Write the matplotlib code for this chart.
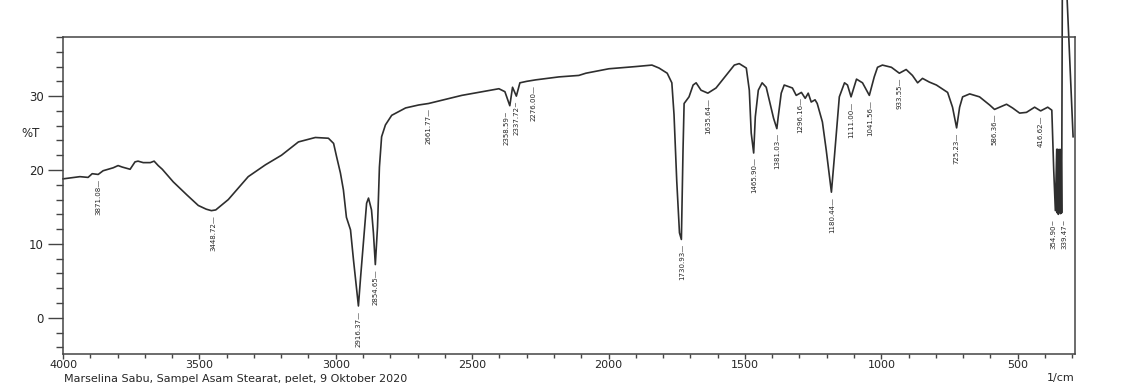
import numpy as np
import matplotlib
matplotlib.use("Agg")
import matplotlib.pyplot as plt
from matplotlib.ticker import MultipleLocator

# FTIR spectrum (wavenumber 1/cm, %T)
wavenumber = [
    4000, 3938, 3908, 3893, 3871, 3864, 3853, 3816, 3798, 3783, 3754, 3736, 3725, 3706,
    3680, 3666, 3651, 3636, 3596, 3545, 3504, 3475, 3456, 3440, 3394, 3321, 3258, 3199,
    3137, 3075, 3027, 3008, 2997, 2983, 2972, 2961, 2946, 2935, 2917, 2909, 2898, 2887,
    2880, 2869, 2862, 2855, 2847, 2840, 2832, 2818, 2795, 2744, 2696, 2660, 2538, 2402,
    2380, 2362, 2352, 2338, 2325, 2300, 2267, 2182, 2109, 2083, 1999, 1900, 1841, 1815,
    1785, 1768, 1760, 1750, 1740, 1733, 1727, 1723, 1705, 1690, 1679, 1661, 1636, 1606,
    1569, 1539, 1521, 1495, 1484, 1477, 1468, 1462, 1451, 1437, 1422, 1411, 1395, 1383,
    1378, 1367, 1356, 1326, 1312, 1293, 1279, 1268, 1257, 1243, 1235, 1216, 1202, 1183,
    1172, 1154, 1135, 1124, 1111, 1091, 1069, 1044, 1026, 1014, 996, 963, 934, 909,
    886, 867, 849, 824, 798, 757, 739, 724, 713, 702, 676, 640, 603, 585, 541, 519,
    493, 468, 438, 416, 390, 375, 368, 362, 357, 355, 353, 351, 349, 347, 345, 343,
    341, 339, 336, 327, 297,
]
transmittance = [
    18.8, 19.1, 19.0, 19.5, 19.4, 19.6, 19.9, 20.3, 20.6, 20.4, 20.1, 21.1, 21.2, 21.0,
    21.0, 21.2, 20.6, 20.1, 18.4, 16.6, 15.2, 14.7, 14.5, 14.6, 16.0, 19.1, 20.7, 22.0,
    23.8, 24.4, 24.3, 23.6, 21.8, 19.6, 17.3, 13.6, 11.9, 7.8, 1.6, 5.5, 10.5, 15.5,
    16.2, 14.6, 11.5, 7.2, 12.3, 20.4, 24.5, 26.1, 27.4, 28.4, 28.8, 29.0, 30.1, 31.0,
    30.6, 28.7, 31.2, 30.0, 31.8, 32.0, 32.2, 32.6, 32.8, 33.1, 33.7, 34.0, 34.2, 33.8,
    33.1, 31.8, 27.5, 18.5, 11.5, 10.6, 22.7, 29.0, 29.9, 31.5, 31.8, 30.8, 30.4, 31.1,
    32.8, 34.2, 34.4, 33.8, 30.8, 25.0, 22.3, 27.2, 30.8, 31.8, 31.2, 29.5, 27.0, 25.6,
    27.2, 30.4, 31.5, 31.1, 30.1, 30.5, 29.7, 30.4, 29.2, 29.5, 29.0, 26.5, 22.7, 17.0,
    21.8, 29.9, 31.8, 31.5, 29.9, 32.3, 31.8, 30.1, 32.6, 33.9, 34.2, 33.9, 33.1, 33.6,
    32.8, 31.8, 32.4, 31.9, 31.5, 30.5, 28.5, 25.7, 28.5, 29.9, 30.3, 29.9, 28.8, 28.2,
    28.9, 28.4, 27.7, 27.8, 28.5, 28.0, 28.5, 28.1, 20.0, 14.5, 22.8, 14.2, 22.8, 14.0,
    22.6, 14.3, 22.8, 14.1, 22.5, 14.2, 50.0, 50.0, 24.5,
]

peak_labels = ["3871.08", "3448.72", "2916.37", "2854.65", "2661.77", "2358.59",
               "2337.72", "2276.00", "1730.93", "1635.64", "1465.90", "1381.03",
               "1296.16", "1180.44", "1111.00", "1041.56", "933.55", "725.23",
               "586.36", "416.62", "354.90", "339.47"]
bent_leaders = ["2358.59", "2337.72", "354.90", "339.47"]
label_nudge = {"2358.59": -3, "354.90": -3, "339.47": 2}  # points, sideways

line_color = '#2e2e2e'
text_color = '#262626'

fig = plt.figure(figsize=(11.35, 3.83), dpi=100)
ax = fig.add_axes([63 / 1135, 1 - 354 / 383, 1012 / 1135, 317 / 383])

ax.plot(wavenumber, transmittance, color=line_color, lw=1.2, clip_on=False)

ax.set_xlim(4000, 290)
ax.set_ylim(-4.9, 38)

ax.xaxis.set_major_locator(MultipleLocator(500))
ax.xaxis.set_minor_locator(MultipleLocator(100))
ax.yaxis.set_major_locator(MultipleLocator(10))
ax.yaxis.set_minor_locator(MultipleLocator(2))
ax.tick_params(axis='x', which='major', length=3.5, width=1, pad=0.5, labelsize=8,
               colors='#444444', labelcolor=text_color)
ax.tick_params(axis='x', which='minor', length=3, width=1, colors='#444444')
ax.tick_params(axis='y', which='major', length=11, width=1, pad=3, labelsize=8.5,
               colors='#444444', labelcolor=text_color)
ax.tick_params(axis='y', which='minor', length=5, width=1, colors='#444444')
for sp in ax.spines.values():
    sp.set_color('#444444')
    sp.set_linewidth(1.1)

# peak labels, hung just under each minimum
wn = np.array(wavenumber, dtype=float)
tr = np.array(transmittance, dtype=float)
for lab in peak_labels:
    v = float(lab)
    near = np.abs(wn - v) <= 8
    ytop = tr[near].min() if near.any() else np.interp(v, wn[::-1], tr[::-1])
    lead = "~" if lab in bent_leaders else "\u2014"
    ax.annotate(lab + lead, xy=(v, ytop - 0.6), xytext=(label_nudge.get(lab, 0), 0),
                textcoords='offset points', rotation=90, ha='center', va='top',
                fontsize=5, color=text_color)

fig.text(31 / 1135, 1 - 133 / 383, "%T", ha='center', va='center', fontsize=8.5,
         color=text_color)
fig.text(64 / 1135, 1 - 378.5 / 383, "Marselina Sabu, Sampel Asam Stearat, pelet, 9 Oktober 2020",
         ha='left', va='center', fontsize=8, color=text_color)
fig.text(1075 / 1135, 1 - 378.5 / 383, "1/cm", ha='right', va='center', fontsize=8,
         color=text_color)

fig.savefig("out.png", dpi=100)
